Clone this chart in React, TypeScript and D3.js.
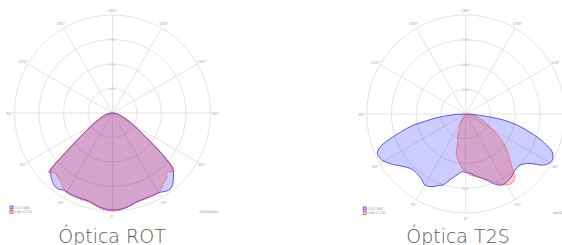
import * as d3 from 'd3';
import React, {useEffect, useRef} from 'react';

// Óptica ROT - gamma (deg, negative = left half) and intensity (cd/1000lm)
const rotGamma = [-90,-85,-80,-75,-70,-65,-60,-55,-50,-47,-45,-43,-40,-37,-35,-32,-30,-25,-20,-15,-10,-5,0,5,10,15,20,25,30,32,35,37,40,43,45,47,50,55,60,65,70,75,80,85,90];
const rotC0 = [0,10,20,30,44,62,90,140,244,348,356,366,376,382,380,372,372,372,372,372,382,392,396,394,386,376,374,374,376,380,388,390,382,364,352,338,272,152,98,66,44,30,20,10,0];
const rotC90 = [0,10,20,30,44,64,94,144,256,356,344,340,346,352,358,370,376,376,376,376,386,396,400,396,388,378,376,376,376,370,358,352,344,328,340,344,280,156,102,68,46,30,20,10,0];

// Óptica T2S
const t2sC0Gamma = [-90,-87,-85,-82.7,-80,-78,-75,-72.6,-69,-66,-63,-61,-58,-55,-50,-45.7,-42,-38,-34,-30,-25,-21,-17.5,-15,-12,-8,-4,0,4,10,17.5,22,26,30,36,40,45,49,52.5,56.7,61,65.7,69,72,75,78,81,83,85,87,90];
const t2sC0 = [0,40,72,118,164,216,264,307,370,391,390,386,372,356,330,314,310,312,318,331,324,310,300,284,266,248,234,236,240,256,280,304,320,322,314,304,300,308,328,376,396,386,350,306,256,210,154,100,44,20,0];
const t2sC90Gamma = [-90,-40,-35,-30,-25,-20,-17,-13,-9,-5,-2.5,0,4,10,15,22,29,33.6,36,38.2,39.5,44,50,54,58,62.4,66,70,76,82,86,90];
const t2sC90 = [0,0,16,48,56,96,110,168,190,212,226,232,247,257,269,295,328,336,332,322,302,258,212,180,142,111,90,72,46,24,12,0];

const ringValues = [100, 200, 300, 400];
const angleTicks = [0, 30, 60, 90, 120, 150, 180, -150, -120, -90, -60, -30];
const legendLabels = ['C0-C180', 'C90-C270'];

const charts = [
  {title: 'Óptica ROT', cx: 112.5, cy: 113, r: 98, tx: 112, series: [[rotGamma, rotC0], [rotGamma, rotC90]]},
  {title: 'Óptica T2S', cx: 465.7, cy: 114, r: 99, tx: 458, series: [[t2sC0Gamma, t2sC0], [t2sC90Gamma, t2sC90]]},
];

const seriesStyle = [
  {fill: 'rgba(0,0,255,0.2)', stroke: '#2f2ff5', dash: null},
  {fill: 'rgba(255,0,0,0.2)', stroke: '#f03c3c', dash: '1.5,1'},
];

const App = () => {
  const ref = useRef(null);

  useEffect(() => {
    const svg = d3.select(ref.current);
    svg.selectAll('*').remove();

    charts.forEach(c => {
      const rScale = d3.scaleLinear().domain([0, 400]).range([0, c.r]);
      const g = svg.append('g').attr('transform', 'translate(' + c.cx + ',' + c.cy + ')');

      // grid
      g.selectAll('circle.ring').data(ringValues).enter().append('circle')
        .attr('r', d => rScale(d)).attr('fill', 'none').attr('stroke', '#dcdcdc').attr('stroke-width', 0.8);
      g.selectAll('line.spoke').data(d3.range(0, 360, 30)).enter().append('line')
        .attr('x1', 0).attr('y1', 0)
        .attr('x2', d => c.r * Math.sin(d * Math.PI / 180))
        .attr('y2', d => -c.r * Math.cos(d * Math.PI / 180))
        .attr('stroke', '#dcdcdc').attr('stroke-width', 0.8);

      // series
      c.series.forEach((s, i) => {
        const pts = s[0].map((a, k) => [a, s[1][k]]);
        const line = d3.lineRadial()
          .angle(d => Math.PI - d[0] * Math.PI / 180)
          .radius(d => rScale(d[1]))
          .curve(d3.curveCatmullRom.alpha(0.5));
        const st = seriesStyle[i];
        g.append('path').attr('d', line(pts) + 'Z')
          .attr('fill', st.fill).attr('stroke', st.stroke).attr('stroke-width', 0.8)
          .attr('stroke-dasharray', st.dash);
      });

      // tiny labels
      g.selectAll('text.ang').data(angleTicks).enter().append('text')
        .attr('x', d => (c.r + 5) * Math.sin((180 - d) * Math.PI / 180) * -1)
        .attr('y', d => (c.r + 5) * -Math.cos((180 - d) * Math.PI / 180) + 1.5)
        .attr('text-anchor', 'middle').attr('font-size', 4).attr('fill', '#aaa')
        .attr('font-family', 'DejaVu Sans').text(d => Math.abs(d) + '°');
      [-1, 1].forEach(sgn => {
        g.selectAll('text.rv' + sgn).data(ringValues.slice(0, 3)).enter().append('text')
          .attr('x', 0).attr('y', d => sgn * rScale(d) + 1.5)
          .attr('text-anchor', 'middle').attr('font-size', 3.5).attr('fill', '#bbb')
          .attr('font-family', 'DejaVu Sans').text(d => d);
      });

      // legend
      legendLabels.forEach((l, i) => {
        const st = seriesStyle[i];
        g.append('rect').attr('x', -102.5).attr('y', 93 + i * 4.5).attr('width', 3).attr('height', 3)
          .attr('fill', st.fill).attr('stroke', st.stroke).attr('stroke-width', 0.7);
        g.append('text').attr('x', -98).attr('y', 95.8 + i * 4.5).attr('font-size', 3.5)
          .attr('fill', '#888').attr('font-family', 'DejaVu Sans').text(l);
      });
      g.append('text').attr('x', 87).attr('y', 99.5).attr('font-size', 3.5)
        .attr('fill', '#888').attr('font-family', 'DejaVu Sans').text('cd/1000lm');

      svg.append('text').attr('x', c.tx).attr('y', 243).attr('text-anchor', 'middle')
        .attr('font-size', 19).attr('font-weight', 200).attr('fill', '#5a5a5a')
        .attr('font-family', 'DejaVu Sans').text(c.title);
    });
  });

  return (
    <svg ref={ref} width={562} height={245} style={{position: 'absolute', left: 0, top: 0, background: '#fff'}}></svg>
  );
};

export default App;
